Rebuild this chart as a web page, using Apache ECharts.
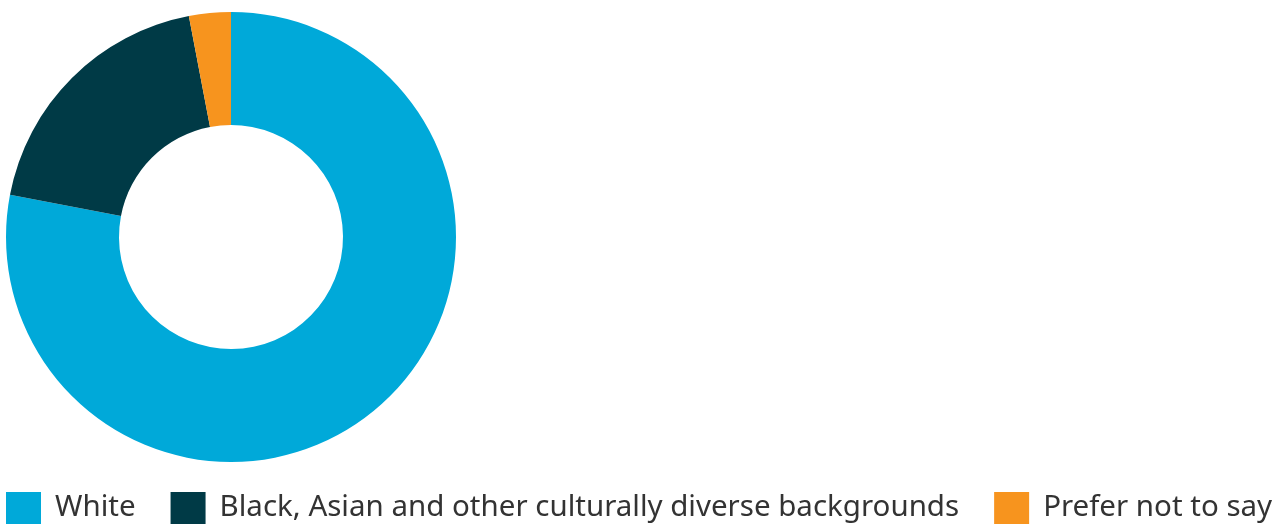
<!DOCTYPE html>
<html>
<head>
<meta charset="utf-8">
<script src="https://cdn.jsdelivr.net/npm/echarts@6/dist/echarts.min.js"></script>
<style>html,body{margin:0;padding:0;background:#fff}#c{width:1287px;height:525px}</style>
</head>
<body>
<div id="c"></div>
<script>
var categories = ['White', 'Black, Asian and other culturally diverse backgrounds', 'Prefer not to say'];
var values = [78, 19, 3];
var colors = ['#00A9D9', '#003A46', '#F7941E'];

var chart = echarts.init(document.getElementById('c'));
chart.setOption({
  animation: false,
  color: colors,
  legend: {
    left: 1,
    top: 487,
    itemWidth: 35,
    itemHeight: 32,
    itemGap: 35,
    icon: 'rect',
    data: categories,
    textStyle: {
      fontFamily: 'Noto Sans',
      fontSize: 29.5,
      color: '#333333',
      padding: [4, 0, 0, 9]
    }
  },
  series: [{
    type: 'pie',
    center: [231, 237],
    radius: [112, 225],
    startAngle: 90,
    clockwise: true,
    label: { show: false },
    labelLine: { show: false },
    itemStyle: { borderWidth: 0 },
    data: categories.map(function (c, i) { return { name: c, value: values[i] }; })
  }]
});
</script>
</body>
</html>
